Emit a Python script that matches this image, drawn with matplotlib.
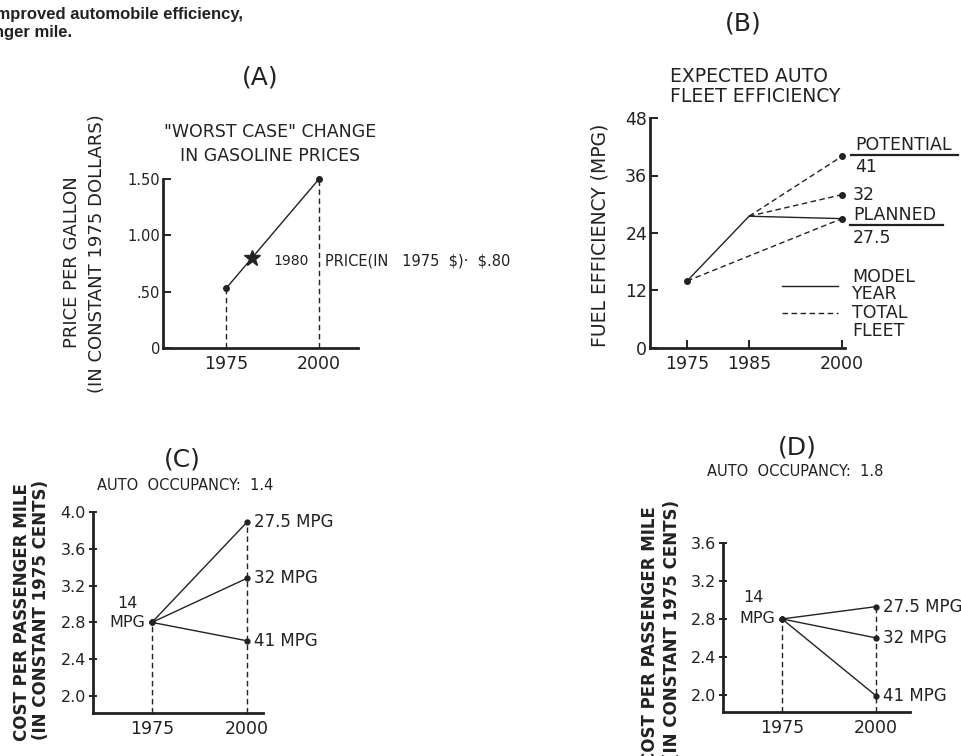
import matplotlib.pyplot as plt
from matplotlib.lines import Line2D

plt.rcParams["font.family"] = ["DejaVu Sans"]

W, H = 961, 756
INK = "#222222"

# (A) gasoline price, constant 1975 dollars
a_years = [1975, 2000]
a_price = [0.53, 1.50]
a_star_year = [1982]
a_star_price = [0.80]
a_yticks = [0, 0.5, 1.0, 1.5]
a_yticklabels = ["0", ".50", "1.00", "1.50"]

# (B) expected fleet efficiency, mpg
b_model_years = [1975, 1985, 2000]
b_model_mpg = [14, 27.5, 27]
b_fleet_years = [1975, 2000]
b_fleet_mpg = [14, 27]
b_potential_years = [1985, 2000]
b_potential_41 = [27.5, 40]
b_potential_32 = [27.5, 32]
b_yticks = [0, 12, 24, 36, 48]
b_xticks = [1975, 1985, 2000]

# (C) / (D) cost per passenger mile, cents
cd_years = [1975, 2000]
cd_labels = ["27.5 MPG", "32 MPG", "41 MPG"]
c_cost_1975 = 2.80
c_cost_2000 = [3.89, 3.28, 2.60]
c_yticks = [2.0, 2.4, 2.8, 3.2, 3.6, 4.0]
d_cost_1975 = 2.80
d_cost_2000 = [2.93, 2.60, 1.99]
d_yticks = [2.0, 2.4, 2.8, 3.2, 3.6]

fig = plt.figure(figsize=(W / 100, H / 100), dpi=100)


def px_axes(left, right, bottom, top):
    return fig.add_axes([left / W, 1 - bottom / H, (right - left) / W, (bottom - top) / H])


def ftext(x, y, s, **kw):
    kw.setdefault("ha", "center")
    kw.setdefault("va", "center")
    kw.setdefault("color", INK)
    return fig.text(x / W, 1 - y / H, s, **kw)


def fline(x0, x1, y, **kw):
    fig.add_artist(Line2D([x0 / W, x1 / W], [1 - y / H, 1 - y / H], color=INK, **kw))


def style(ax, xtick_len=0, ydir="in", ysize=10.5):
    for side in ["top", "right"]:
        ax.spines[side].set_visible(False)
    for side in ["left", "bottom"]:
        ax.spines[side].set_linewidth(2.0)
        ax.spines[side].set_color(INK)
    ax.tick_params(axis="y", direction=ydir, length=6, width=1.4, pad=2,
                   labelsize=ysize, colors=INK)
    ax.tick_params(axis="x", direction="in", length=xtick_len, width=1.4, pad=5,
                   labelsize=12.5, colors=INK)


line_kw = dict(color=INK, lw=1.0)
dash_kw = dict(color=INK, lw=1.0, linestyle=(0, (4, 2.5)))

# caption fragment (cut off by the page edge, as in the scan)
ftext(243, 15, "improved automobile efficiency,", ha="right", fontsize=12,
      fontweight="bold", family="Liberation Sans")
ftext(72, 33, "passenger mile.", ha="right", fontsize=12,
      fontweight="bold", family="Liberation Sans")

# ---------------- (A)
ax = px_axes(163, 358, 348, 179)
style(ax)
ax.set_xlim(1958, 2010.5)
ax.set_ylim(0, 1.5)
ax.plot(a_years, a_price, marker="o", ms=4, clip_on=False, **line_kw)
ax.plot(a_star_year, a_star_price, marker="*", ms=12, color=INK, clip_on=False)
ax.vlines(a_years, 0, a_price, **dash_kw)
ax.set_yticks(a_yticks, a_yticklabels)
ax.set_xticks(a_years)
ftext(260, 78, "(A)", fontsize=18)
ftext(270, 132, "\"WORST CASE\" CHANGE", fontsize=12.5)
ftext(270, 156, "IN GASOLINE PRICES", fontsize=12.5)
ftext(72, 262, "PRICE PER GALLON", rotation=90, fontsize=13)
ftext(97, 254, "(IN CONSTANT 1975 DOLLARS)", rotation=90, fontsize=13)
ftext(291, 261, "1980", fontsize=10)
ftext(325, 261, "PRICE(IN   1975  \\$)·  \\$.80", ha="left", fontsize=10.5)

# ---------------- (B)
ax = px_axes(650, 845, 348, 118)
style(ax, xtick_len=6, ysize=12.5)
ax.set_xlim(1969, 2000.5)
ax.set_ylim(0, 48)
ax.plot(b_model_years, b_model_mpg, **line_kw)
ax.plot(b_fleet_years, b_fleet_mpg, **dash_kw)
ax.plot(b_potential_years, b_potential_41, **dash_kw)
ax.plot(b_potential_years, b_potential_32, **dash_kw)
ends = [b_fleet_mpg[0], b_potential_41[-1], b_potential_32[-1], b_fleet_mpg[-1]]
ax.plot([1975, 2000, 2000, 2000], ends, linestyle="none", marker="o", ms=4,
        color=INK, clip_on=False)
ax.set_yticks(b_yticks)
ax.set_xticks(b_xticks)
ftext(743, 23, "(B)", fontsize=18)
ftext(670, 76, "EXPECTED AUTO", ha="left", fontsize=13.5)
ftext(670, 97, "FLEET EFFICIENCY", ha="left", fontsize=13.5)
ftext(600, 235, "FUEL EFFICIENCY (MPG)", rotation=90, fontsize=13.5)
ftext(855, 145, "POTENTIAL", ha="left", fontsize=12.5)
fline(851, 958, 155, lw=1.6)
ftext(855, 167, "41", ha="left", fontsize=12.5)
ftext(853, 195, "32", ha="left", fontsize=12.5)
ftext(853, 215, "PLANNED", ha="left", fontsize=12.5)
fline(850, 943, 225, lw=1.6)
ftext(853, 238, "27.5", ha="left", fontsize=12.5)
fline(782, 838, 286, lw=1.0)
ftext(852, 277, "MODEL", ha="left", fontsize=12.5)
ftext(852, 294, "YEAR", ha="left", fontsize=12.5)
fline(782, 838, 313, lw=1.0, linestyle=(0, (4, 2.5)))
ftext(852, 313, "TOTAL", ha="left", fontsize=12.5)
ftext(852, 331, "FLEET", ha="left", fontsize=12.5)


# ---------------- (C) and (D)
def cost_panel(box, xlim, ylim, yticks, start, ends, title, occ, t_xy, o_xy,
               lab_x, lab_ys, mpg_xy):
    ax = px_axes(*box)
    style(ax, ydir="inout", ysize=11.5)
    ax.set_xlim(*xlim)
    ax.set_ylim(*ylim)
    for end in ends:
        ax.plot(cd_years, [start, end], marker="o", ms=3.5, clip_on=False, **line_kw)
    ax.vlines(cd_years, ylim[0], [start, max(ends)], **dash_kw)
    ax.set_yticks(yticks, [f"{t:.1f}" for t in yticks])
    ax.set_xticks(cd_years)
    for end, lab in zip(ends, cd_labels):
        ax.annotate(lab, (2000, end), xytext=(7, 0), textcoords="offset pixels",
                    ha="left", va="center", fontsize=12, color=INK,
                    annotation_clip=False)
    ax.annotate("MPG", (1975, start), xytext=(-7, 0), textcoords="offset pixels",
                ha="right", va="center", fontsize=11.5, color=INK)
    ftext(mpg_xy[0], mpg_xy[1], "14", fontsize=11.5)
    ftext(t_xy[0], t_xy[1], title, fontsize=18)
    ftext(o_xy[0], o_xy[1], f"AUTO  OCCUPANCY:  {occ}", fontsize=10.5)
    ftext(lab_x[0], lab_ys[0], "COST PER PASSENGER MILE", rotation=90,
          fontsize=12, fontweight="bold")
    ftext(lab_x[1], lab_ys[1], "(IN CONSTANT 1975 CENTS)", rotation=90,
          fontsize=12, fontweight="bold")


cost_panel((93, 263, 713, 512), (1959.5, 2004.2), (1.815, 4.0), c_yticks,
           c_cost_1975, c_cost_2000, "(C)", "1.4", (182, 460), (185, 485),
           (22, 41), (612, 610), (127, 603))
cost_panel((723, 910, 712, 543), (1959.3, 2009), (1.82, 3.6), d_yticks,
           d_cost_1975, d_cost_2000, "(D)", "1.8", (797, 447), (795, 472),
           (650, 672), (635, 630), (753, 597))

fig.savefig("out.png", dpi=100)
